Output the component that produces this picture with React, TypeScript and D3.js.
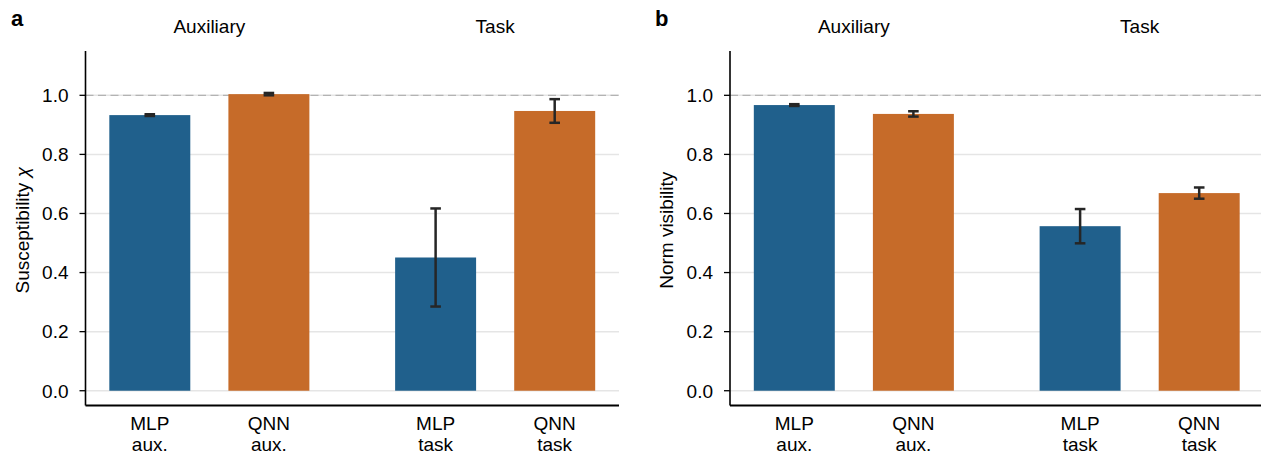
import React from "react";
import * as d3 from "d3";

const categories = ["MLP\naux.", "QNN\naux.", "MLP\ntask", "QNN\ntask"];
const positions = [0, 1, 2.4, 3.4];
const groups = ["Auxiliary", "Task"];
const groupCenters = [0.5, 2.9];
const susceptibility = [0.933, 1.004, 0.451, 0.947];
const susceptibilityErr = [0.003, 0.004, 0.166, 0.04];
const visibility = [0.967, 0.937, 0.557, 0.669];
const visibilityErr = [0.003, 0.009, 0.058, 0.019];
const yTicks = [0, 0.2, 0.4, 0.6, 0.8, 1.0];

const colors = ["#20608c", "#c66b29", "#20608c", "#c66b29"];
const font = "'Liberation Sans', Arial, Helvetica, sans-serif";
const fs = 19;

const W = 1261;
const H = 453;

type PanelProps = {
  left: number;
  letter: string;
  ylabel: React.ReactNode;
  values: number[];
  errors: number[];
};

const Panel = ({ left, letter, ylabel, values, errors }: PanelProps) => {
  const top = 51;
  const bottom = 405.5;
  const width = 533.5;

  const x = d3.scaleLinear().domain([-0.54, 3.94]).range([left, left + width]);
  const y = d3.scaleLinear().domain([-0.05, 1.15]).range([bottom, top]);
  const bw = x(0.68) - x(0);

  return (
    <g fontFamily={font} fill="#000">
      <text x={letter === "a" ? 11 : left - 75} y={26} fontSize={22} fontWeight="bold">
        {letter}
      </text>

      {groups.map((g, i) => (
        <text key={g} x={x(groupCenters[i])} y={33} fontSize={fs} textAnchor="middle">
          {g}
        </text>
      ))}

      {/* grid */}
      {yTicks.map((t) => (
        <line key={t} x1={left} x2={left + width} y1={y(t)} y2={y(t)} stroke="#e5e5e5" strokeWidth={1.5} />
      ))}
      <line x1={left} x2={left + width} y1={y(1)} y2={y(1)} stroke="#b3b3b3" strokeWidth={1.2} strokeDasharray="8,4.5" />

      {/* bars */}
      {values.map((v, i) => (
        <rect key={i} x={x(positions[i]) - bw / 2} y={y(v)} width={bw} height={y(0) - y(v)} fill={colors[i]} />
      ))}

      {/* error bars */}
      {values.map((v, i) => {
        const cx = x(positions[i]);
        const y1 = y(v + errors[i]);
        const y2 = y(v - errors[i]);
        return (
          <g key={i} stroke="#262626">
            <line x1={cx} x2={cx} y1={y1} y2={y2} strokeWidth={2.5} />
            <line x1={cx - 5.3} x2={cx + 5.3} y1={y1} y2={y1} strokeWidth={2.5} />
            <line x1={cx - 5.3} x2={cx + 5.3} y1={y2} y2={y2} strokeWidth={2.5} />
          </g>
        );
      })}

      {/* y axis */}
      <line x1={left} x2={left} y1={top} y2={bottom} stroke="#000" strokeWidth={1.6} />
      {yTicks.map((t) => (
        <g key={t}>
          <line x1={left - 6} x2={left} y1={y(t)} y2={y(t)} stroke="#000" strokeWidth={1.3} />
          <text x={left - 17} y={y(t)} dy="0.36em" fontSize={fs} textAnchor="end">
            {d3.format(".1f")(t)}
          </text>
        </g>
      ))}
      <text
        transform={`translate(${left - 57},${(top + bottom) / 2 + 2}) rotate(-90)`}
        fontSize={fs}
        textAnchor="middle"
      >
        {ylabel}
      </text>

      {/* x axis */}
      <line x1={left} x2={left + width} y1={bottom} y2={bottom} stroke="#000" strokeWidth={2.2} />
      {categories.map((c, i) => (
        <text key={i} x={x(positions[i])} y={429.5} fontSize={fs} textAnchor="middle">
          {c.split("\n").map((line, j) => (
            <tspan key={j} x={x(positions[i])} dy={j === 0 ? 0 : 21.5}>
              {line}
            </tspan>
          ))}
        </text>
      ))}
    </g>
  );
};

export default function App() {
  return (
    <svg width={W} height={H} style={{ position: "absolute", left: 0, top: 0, background: "#fff" }}>
      <rect width={W} height={H} fill="#fff" />
      <Panel
        left={85.5}
        letter="a"
        ylabel={
          <>
            Susceptibility <tspan fontStyle="italic">χ</tspan>
          </>
        }
        values={susceptibility}
        errors={susceptibilityErr}
      />
      <Panel left={730} letter="b" ylabel="Norm visibility" values={visibility} errors={visibilityErr} />
    </svg>
  );
}
